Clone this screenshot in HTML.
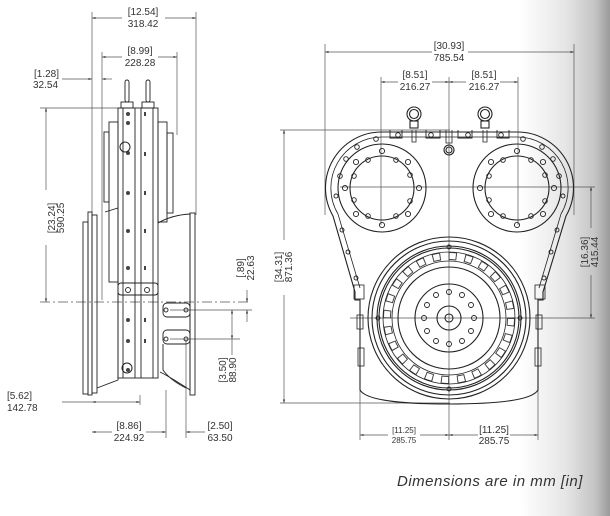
<!DOCTYPE html>
<html><head><meta charset="utf-8"><style>
html,body{margin:0;padding:0;}
body{width:610px;height:516px;overflow:hidden;background:linear-gradient(to right,#fff 0,#fff 520px,#e6e6e6 565px,#c4c4c4 595px,#9a9a9a 610px);position:relative;font-family:"Liberation Sans",sans-serif;}
svg{position:absolute;left:0;top:0;}
.d{font-size:10px;fill:#333;}
.foot{position:absolute;left:397px;top:473px;font-style:italic;font-size:15px;color:#333;letter-spacing:0.5px;}
</style></head><body>
<svg width="610" height="516" viewBox="0 0 610 516" fill="none" stroke="#222" stroke-width="1">
<defs>
<marker id="a" viewBox="0 0 10 10" refX="10" refY="5" markerWidth="5" markerHeight="5" orient="auto-start-reverse"><path d="M0,2 L10,5 L0,8z" fill="#333" stroke="none"/></marker>
</defs>
<g stroke="#555" stroke-width="0.7">
<line x1="92" y1="12" x2="92" y2="395"/><line x1="196" y1="12" x2="196" y2="215"/>
<line x1="102" y1="52" x2="102" y2="300"/><line x1="177" y1="52" x2="177" y2="135"/>
<line x1="92" y1="18" x2="122" y2="18" marker-start="url(#a)"/><line x1="165" y1="18" x2="196" y2="18" marker-end="url(#a)"/>
<line x1="102" y1="57" x2="122" y2="57" marker-start="url(#a)"/><line x1="158" y1="57" x2="177" y2="57" marker-end="url(#a)"/>
<line x1="62" y1="79" x2="92" y2="79" marker-end="url(#a)"/><line x1="102" y1="79" x2="112" y2="79" marker-start="url(#a)"/>
<line x1="40" y1="108" x2="120" y2="108"/>
<line x1="46" y1="108" x2="46" y2="190" marker-start="url(#a)"/><line x1="46" y1="245" x2="46" y2="302" marker-end="url(#a)"/>
<line x1="40" y1="302" x2="250" y2="302" stroke-dasharray="10 3 2 3"/>
<line x1="62" y1="402" x2="92" y2="402"/><line x1="92" y1="402" x2="140" y2="402" marker-start="url(#a)" marker-end="url(#a)"/><line x1="140" y1="395" x2="140" y2="405"/>
<line x1="92" y1="432" x2="112" y2="432" marker-start="url(#a)"/><line x1="146" y1="432" x2="166" y2="432" marker-end="url(#a)"/>
<line x1="166" y1="390" x2="166" y2="438"/><line x1="186" y1="340" x2="186" y2="438"/>
<line x1="186" y1="432" x2="205" y2="432" marker-start="url(#a)"/>
<line x1="170" y1="310" x2="252" y2="310"/><line x1="170" y1="339" x2="240" y2="339"/>
<line x1="247" y1="290" x2="247" y2="302" marker-end="url(#a)"/><line x1="247" y1="310" x2="247" y2="322" marker-start="url(#a)"/>
<line x1="232" y1="310" x2="232" y2="339" marker-start="url(#a)" marker-end="url(#a)"/><line x1="232" y1="339" x2="232" y2="355"/>
</g>
<g stroke="#222" stroke-width="0.9">
<rect x="125" y="80" width="4" height="22" rx="2"/><rect x="146" y="80" width="4" height="22" rx="2"/>
<rect x="121" y="102" width="12" height="6"/><rect x="142" y="102" width="12" height="6"/>
<rect x="118" y="108" width="40" height="270"/>
<line x1="135" y1="108" x2="135" y2="378"/><line x1="141" y1="108" x2="141" y2="378"/>
<line x1="123" y1="108" x2="123" y2="378"/><line x1="153" y1="108" x2="153" y2="378"/>
<rect x="109" y="122" width="9" height="160"/><rect x="104" y="132" width="5" height="70"/>
<rect x="158" y="122" width="9" height="100"/><rect x="167" y="133" width="6" height="80"/>
<rect x="118" y="283" width="40" height="12" rx="3"/>
<path d="M105 212 L118 208 L118 380 L97 388"/>
<rect x="83" y="222" width="5" height="172"/><rect x="88" y="212" width="4" height="183"/><rect x="92" y="215" width="5" height="178"/>
<path d="M158 223 Q172 215 190 214 L190 390 Q172 378 160 372"/>
<rect x="190" y="213" width="5" height="182"/>
<rect x="163" y="303" width="27" height="14" rx="4"/><rect x="163" y="330" width="27" height="14" rx="4"/>
<path d="M163 344 L163 370 Q170 380 186 388"/>
</g>
<g fill="#444" stroke="none">
<circle cx="128" cy="114" r="2"/><circle cx="128" cy="123" r="2"/><circle cx="128" cy="153" r="2"/><circle cx="128" cy="193" r="2"/><circle cx="128" cy="231" r="2"/><circle cx="128" cy="268" r="2"/><circle cx="128" cy="320" r="2"/><circle cx="128" cy="341" r="2"/><circle cx="128" cy="370" r="2"/>
<rect x="144" y="112" width="2" height="4"/><rect x="144" y="152" width="2" height="4"/><rect x="144" y="191" width="2" height="4"/><rect x="144" y="229" width="2" height="4"/><rect x="144" y="266" width="2" height="4"/><rect x="144" y="318" width="2" height="4"/><rect x="144" y="339" width="2" height="4"/>
</g>
<circle cx="125" cy="147" r="5" stroke="#222"/><circle cx="127" cy="368" r="5" stroke="#222"/>
<circle cx="128" cy="290" r="2.5" stroke="#333"/><circle cx="147" cy="290" r="2.5" stroke="#333"/>
<circle cx="166" cy="310" r="2" stroke="#333"/><circle cx="186" cy="310" r="2" stroke="#333"/><circle cx="166" cy="339" r="2" stroke="#333"/><circle cx="186" cy="339" r="2" stroke="#333"/>
<g stroke="none" class="d">
<text x="143" y="15" text-anchor="middle">[12.54]</text><text x="143" y="27" text-anchor="middle">318.42</text>
<text x="140" y="54" text-anchor="middle">[8.99]</text><text x="140" y="66" text-anchor="middle">228.28</text>
<text x="34" y="77">[1.28]</text><text x="33" y="88">32.54</text>
<text transform="translate(55,218) rotate(-90)" text-anchor="middle">[23.24]</text><text transform="translate(64,218) rotate(-90)" text-anchor="middle">590.25</text>
<text x="7" y="399">[5.62]</text><text x="7" y="411">142.78</text>
<text x="129" y="429" text-anchor="middle">[8.86]</text><text x="129" y="441" text-anchor="middle">224.92</text>
<text x="220" y="429" text-anchor="middle">[2.50]</text><text x="220" y="441" text-anchor="middle">63.50</text>
<text transform="translate(244,268) rotate(-90)" text-anchor="middle">[.89]</text><text transform="translate(254,268) rotate(-90)" text-anchor="middle">22.63</text>
<text transform="translate(226,370) rotate(-90)" text-anchor="middle">[3.50]</text><text transform="translate(236,370) rotate(-90)" text-anchor="middle">88.90</text>
</g>
<g stroke="#555" stroke-width="0.7">
<line x1="325" y1="44" x2="325" y2="215"/><line x1="574" y1="44" x2="574" y2="215"/>
<line x1="325" y1="52" x2="432" y2="52" marker-start="url(#a)"/><line x1="468" y1="52" x2="574" y2="52" marker-end="url(#a)"/>
<line x1="381" y1="77" x2="381" y2="225"/><line x1="518" y1="77" x2="518" y2="225"/><line x1="449" y1="77" x2="449" y2="440"/>
<line x1="381" y1="82" x2="398" y2="82" marker-start="url(#a)"/><line x1="432" y1="82" x2="449" y2="82" marker-end="url(#a)"/>
<line x1="449" y1="82" x2="466" y2="82" marker-start="url(#a)"/><line x1="500" y1="82" x2="518" y2="82" marker-end="url(#a)"/>
<line x1="280" y1="130" x2="450" y2="130"/><line x1="280" y1="403" x2="450" y2="403"/>
<line x1="284" y1="130" x2="284" y2="240" marker-start="url(#a)"/><line x1="284" y1="295" x2="284" y2="403" marker-end="url(#a)"/>
<line x1="340" y1="187" x2="595" y2="187"/><line x1="350" y1="318" x2="595" y2="318"/>
<line x1="591" y1="187" x2="591" y2="228" marker-start="url(#a)"/><line x1="591" y1="275" x2="591" y2="318" marker-end="url(#a)"/>
<line x1="360" y1="330" x2="360" y2="440"/><line x1="538" y1="330" x2="538" y2="440"/>
<line x1="360" y1="435" x2="388" y2="435" marker-start="url(#a)"/><line x1="420" y1="435" x2="449" y2="435" marker-end="url(#a)"/>
<line x1="449" y1="435" x2="478" y2="435" marker-start="url(#a)"/><line x1="510" y1="435" x2="538" y2="435" marker-end="url(#a)"/>
</g>
<g stroke="#222" stroke-width="1.1">
<path d="M382 132 L517 132 A56 56 0 0 1 566 216 L543 292 L543 300 L538 300 L538 390 Q530 404 449 404 Q368 404 360 390 L360 300 L355 300 L355 292 L333 216 A56 56 0 0 1 382 132 Z"/>
<path d="M382 137 L517 137 A51 51 0 0 1 561 214 L539 288 M382 137 A51 51 0 0 0 338 214 L360 288" stroke-width="0.8"/>
<rect x="354" y="285" width="10" height="14" stroke-width="0.8"/><rect x="535" y="285" width="10" height="14" stroke-width="0.8"/>
<rect x="357" y="315" width="6" height="14" stroke-width="0.8"/><rect x="536" y="315" width="6" height="14" stroke-width="0.8"/>
<rect x="358" y="348" width="6" height="18" stroke-width="0.8"/><rect x="535" y="348" width="6" height="18" stroke-width="0.8"/>
<circle cx="414" cy="114" r="7"/><circle cx="414" cy="114" r="4.5"/><rect x="410" y="121" width="8" height="7"/>
<circle cx="485" cy="114" r="7"/><circle cx="485" cy="114" r="4.5"/><rect x="481" y="121" width="8" height="7"/>
<path d="M390 130 L390 138 L402 138 L402 130 M426 130 L426 138 L440 138 L440 130 M458 130 L458 138 L472 138 L472 130 M497 130 L497 138 L509 138 L509 130" stroke-width="0.9"/>
<path d="M412 130 L412 142 L416 142 L416 130 M483 130 L483 142 L487 142 L487 130 M446 130 L446 143 L452 143 L452 130" stroke-width="0.8"/>
<circle cx="449" cy="150" r="5"/><circle cx="449" cy="150" r="3"/>
<circle cx="382" cy="188" r="44"/><circle cx="382" cy="188" r="32"/>
<circle cx="517" cy="188" r="44"/><circle cx="517" cy="188" r="32"/>
<circle cx="449" cy="318" r="81"/><circle cx="449" cy="318" r="77"/><circle cx="449" cy="318" r="72"/><circle cx="449" cy="318" r="70"/>
<circle cx="449" cy="318" r="51"/><circle cx="449" cy="318" r="34"/><circle cx="449" cy="318" r="12"/><circle cx="449" cy="318" r="4"/>
<circle cx="449" cy="318" r="62" stroke-width="8" stroke-dasharray="8.2 8" stroke="#444" fill="none"/>
<circle cx="449" cy="318" r="62" stroke-width="6" stroke-dasharray="6.2 10" stroke-dashoffset="-1" stroke="#fff" fill="none"/>
<circle cx="449" cy="318" r="57" stroke-width="0.8"/>
<circle cx="449" cy="318" r="66" stroke-width="0.8"/>
</g>
<g stroke="#222" stroke-width="0.9">
<g id="bl">
<circle cx="382" cy="151" r="2.6"/><circle cx="408" cy="162" r="2.6"/><circle cx="419" cy="188" r="2.6"/><circle cx="408" cy="214" r="2.6"/><circle cx="382" cy="225" r="2.6"/><circle cx="356" cy="214" r="2.6"/><circle cx="345" cy="188" r="2.6"/><circle cx="356" cy="162" r="2.6"/>
<circle cx="396" cy="160" r="2.3"/><circle cx="410" cy="175" r="2.3"/><circle cx="396" cy="216" r="2.3"/><circle cx="368" cy="216" r="2.3"/><circle cx="354" cy="200" r="2.3"/><circle cx="368" cy="160" r="2.3"/><circle cx="410" cy="201" r="2.3"/><circle cx="354" cy="176" r="2.3"/>
</g>
<use href="#bl" transform="translate(135,0)"/>
<circle cx="449" cy="292" r="2.5"/><circle cx="462" cy="295" r="2.5"/><circle cx="471" cy="305" r="2.5"/><circle cx="474" cy="318" r="2.5"/><circle cx="471" cy="331" r="2.5"/><circle cx="462" cy="341" r="2.5"/><circle cx="449" cy="344" r="2.5"/><circle cx="436" cy="341" r="2.5"/><circle cx="427" cy="331" r="2.5"/><circle cx="424" cy="318" r="2.5"/><circle cx="427" cy="305" r="2.5"/><circle cx="436" cy="295" r="2.5"/>
<circle cx="378" cy="318" r="2"/><circle cx="520" cy="318" r="2"/><circle cx="449" cy="247" r="2"/><circle cx="449" cy="389" r="2"/>
<circle cx="340" cy="176" r="2.3"/><circle cx="346" cy="159" r="2.3"/><circle cx="357" cy="147" r="2.3"/><circle cx="376" cy="139" r="2.3"/><circle cx="398" cy="135" r="2.3"/><circle cx="431" cy="135" r="2.3"/><circle cx="468" cy="135" r="2.3"/><circle cx="501" cy="135" r="2.3"/><circle cx="523" cy="139" r="2.3"/><circle cx="542" cy="147" r="2.3"/><circle cx="553" cy="159" r="2.3"/><circle cx="559" cy="176" r="2.3"/>
<circle cx="336" cy="196" r="2"/><circle cx="563" cy="196" r="2"/><circle cx="342" cy="230" r="2"/><circle cx="557" cy="230" r="2"/><circle cx="348" cy="252" r="2"/><circle cx="551" cy="252" r="2"/><circle cx="356" cy="278" r="2"/><circle cx="544" cy="278" r="2"/>
</g>
<g stroke="none" class="d">
<text x="449" y="49" text-anchor="middle">[30.93]</text><text x="449" y="61" text-anchor="middle">785.54</text>
<text x="415" y="78" text-anchor="middle">[8.51]</text><text x="415" y="90" text-anchor="middle">216.27</text>
<text x="484" y="78" text-anchor="middle">[8.51]</text><text x="484" y="90" text-anchor="middle">216.27</text>
<text transform="translate(282,267) rotate(-90)" text-anchor="middle">[34.31]</text><text transform="translate(292,267) rotate(-90)" text-anchor="middle">871.36</text>
<text transform="translate(588,252) rotate(-90)" text-anchor="middle">[16.36]</text><text transform="translate(598,252) rotate(-90)" text-anchor="middle">415.44</text>
<text x="404" y="433" text-anchor="middle" font-size="8">[11.25]</text><text x="404" y="443" text-anchor="middle" font-size="8">285.75</text>
<text x="494" y="433" text-anchor="middle">[11.25]</text><text x="494" y="444" text-anchor="middle">285.75</text>
</g>
</svg>
<div class="foot">Dimensions are in mm [in]</div>
</body></html>
